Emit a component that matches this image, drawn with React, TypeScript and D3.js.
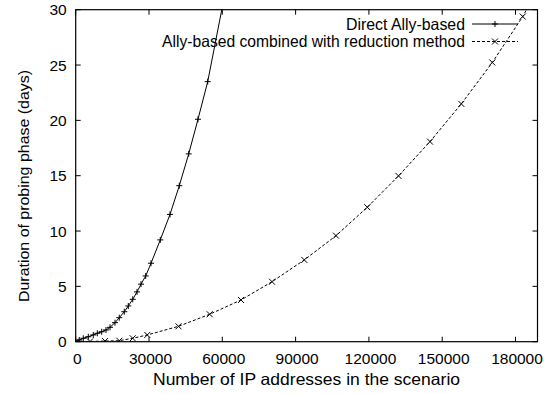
import React, { useRef, useEffect } from 'react';
import * as d3 from 'd3';

// Direct Ally-based (solid, "+" markers)
const directX = [0, 1470, 3110, 5160, 7200, 8840, 10640, 12400, 14040, 16080, 17840, 19890, 21530, 23330, 25090, 26730, 28650, 30820, 34620, 38600, 42400, 46250, 50050, 54030, 62000];
const directY = [0, 0.15, 0.31, 0.45, 0.61, 0.76, 0.9, 1.06, 1.3, 1.72, 2.17, 2.71, 3.23, 3.83, 4.5, 5.2, 5.94, 7.09, 9.2, 11.5, 14.1, 16.97, 20.1, 23.5, 32.5];

// Ally-based combined with reduction method (dashed, "x" markers)
const reducedX = [0, 5850, 12000, 17850, 23330, 29300, 42075, 54845, 67656, 80344, 93563, 106538, 119348, 132117, 145010, 157820, 170509, 182951, 195760];
const reducedY = [0, 0.02, 0.06, 0.09, 0.31, 0.61, 1.39, 2.48, 3.77, 5.42, 7.39, 9.58, 12.15, 14.98, 18.08, 21.49, 25.23, 29.38, 34.6];

const xTicks = [0, 30000, 60000, 90000, 120000, 150000, 180000];
const yTicks = [0, 5, 10, 15, 20, 25, 30];
const seriesNames = ['Direct Ally-based', 'Ally-based combined with reduction method'];

const W = 544;
const H = 394;
const margin = { top: 9.7, right: 6.5, bottom: 52.3, left: 75.7 };
const FONT = '"Liberation Sans", Arial, Helvetica, sans-serif';

export default function App() {
  const svgRef = useRef<SVGSVGElement>(null);

  useEffect(() => {
    if (!svgRef.current) return;
    const svg = d3.select(svgRef.current);
    svg.selectAll('*').remove();

    const x = d3.scaleLinear().domain([0, 189000]).range([margin.left, W - margin.right]);
    const y = d3.scaleLinear().domain([0, 30]).range([H - margin.bottom, margin.top]);
    const [x0, x1] = x.range();
    const [y0, y1] = y.range();

    svg.append('rect').attr('width', W).attr('height', H).attr('fill', '#fff');

    svg.append('defs').append('clipPath').attr('id', 'plot-clip')
      .append('rect').attr('x', x0).attr('y', y1).attr('width', x1 - x0).attr('height', y0 - y1);

    // ticks on all four sides, pointing inwards
    const tick = 5;
    const axes = svg.append('g').attr('stroke', '#000').attr('stroke-width', 1);
    xTicks.forEach(t => {
      axes.append('line').attr('x1', x(t)).attr('x2', x(t)).attr('y1', y0).attr('y2', y0 - tick);
      axes.append('line').attr('x1', x(t)).attr('x2', x(t)).attr('y1', y1).attr('y2', y1 + tick);
    });
    yTicks.forEach(t => {
      axes.append('line').attr('x1', x0).attr('x2', x0 + tick).attr('y1', y(t)).attr('y2', y(t));
      axes.append('line').attr('x1', x1).attr('x2', x1 - tick).attr('y1', y(t)).attr('y2', y(t));
    });

    const labels = svg.append('g').attr('font-family', FONT).attr('font-size', 15.5).attr('fill', '#000');
    xTicks.forEach(t => {
      labels.append('text').attr('x', x(t) + 1.5).attr('y', y0 + 22.6).attr('text-anchor', 'middle').text(String(t));
    });
    yTicks.forEach(t => {
      labels.append('text').attr('x', x0 - 9).attr('y', y(t) + 5.6).attr('text-anchor', 'end').text(String(t));
    });
    labels.append('text').attr('x', 153).attr('y', 385).attr('font-size', 16.5)
      .attr('textLength', 307).attr('lengthAdjust', 'spacingAndGlyphs')
      .text('Number of IP addresses in the scenario');
    labels.append('text').attr('transform', `translate(28.5,302) rotate(-90)`)
      .attr('textLength', 232).attr('lengthAdjust', 'spacingAndGlyphs')
      .text('Duration of probing phase (days)');

    const line = d3.line<[number, number]>().x(d => x(d[0])).y(d => y(d[1]));
    const direct: [number, number][] = directX.map((v, i) => [v, directY[i]]);
    const reduced: [number, number][] = reducedX.map((v, i) => [v, reducedY[i]]);

    const plot = svg.append('g').attr('clip-path', 'url(#plot-clip)');
    plot.append('path').datum(direct).attr('d', line).attr('fill', 'none').attr('stroke', '#000').attr('stroke-width', 1);
    plot.append('path').datum(reduced).attr('d', line).attr('fill', 'none').attr('stroke', '#000')
      .attr('stroke-width', 1).attr('stroke-dasharray', '3,2');

    const s = 3;
    const plus = (g: any, cx: number, cy: number) => {
      g.append('path').attr('d', `M${cx - s},${cy}H${cx + s}M${cx},${cy - s}V${cy + s}`)
        .attr('stroke', '#000').attr('stroke-width', 1).attr('fill', 'none');
    };
    const cross = (g: any, cx: number, cy: number) => {
      g.append('path').attr('d', `M${cx - s},${cy - s}L${cx + s},${cy + s}M${cx - s},${cy + s}L${cx + s},${cy - s}`)
        .attr('stroke', '#000').attr('stroke-width', 1).attr('fill', 'none');
    };
    const inside = (d: [number, number]) => d[0] <= 189000 && d[1] <= 30;
    direct.filter(inside).forEach(d => plus(plot, x(d[0]), y(d[1])));
    reduced.filter(inside).forEach(d => cross(plot, x(d[0]), y(d[1])));

    // legend (no box), right-aligned text with line samples
    const lg = svg.append('g');
    const rows = [24, 41.5];
    const textLen = [119, 303];
    const lx0 = 472, lx1 = 518;
    seriesNames.forEach((name, i) => {
      lg.append('text').attr('x', 465 - textLen[i]).attr('y', rows[i] + 5.8)
        .attr('font-family', FONT).attr('font-size', 16.5)
        .attr('textLength', textLen[i]).attr('lengthAdjust', 'spacingAndGlyphs').text(name);
      lg.append('line').attr('x1', lx0).attr('x2', lx1).attr('y1', rows[i]).attr('y2', rows[i])
        .attr('stroke', '#000').attr('stroke-width', 1).attr('stroke-dasharray', i === 1 ? '3,2' : null);
      if (i === 0) plus(lg, (lx0 + lx1) / 2, rows[i]);
      else cross(lg, (lx0 + lx1) / 2, rows[i]);
    });

    svg.append('rect').attr('x', x0).attr('y', y1).attr('width', x1 - x0).attr('height', y0 - y1)
      .attr('fill', 'none').attr('stroke', '#000').attr('stroke-width', 1.2);
  }, []);

  return <svg ref={svgRef} width={W} height={H} style={{ position: 'absolute', left: 0, top: 0 }} />;
}
